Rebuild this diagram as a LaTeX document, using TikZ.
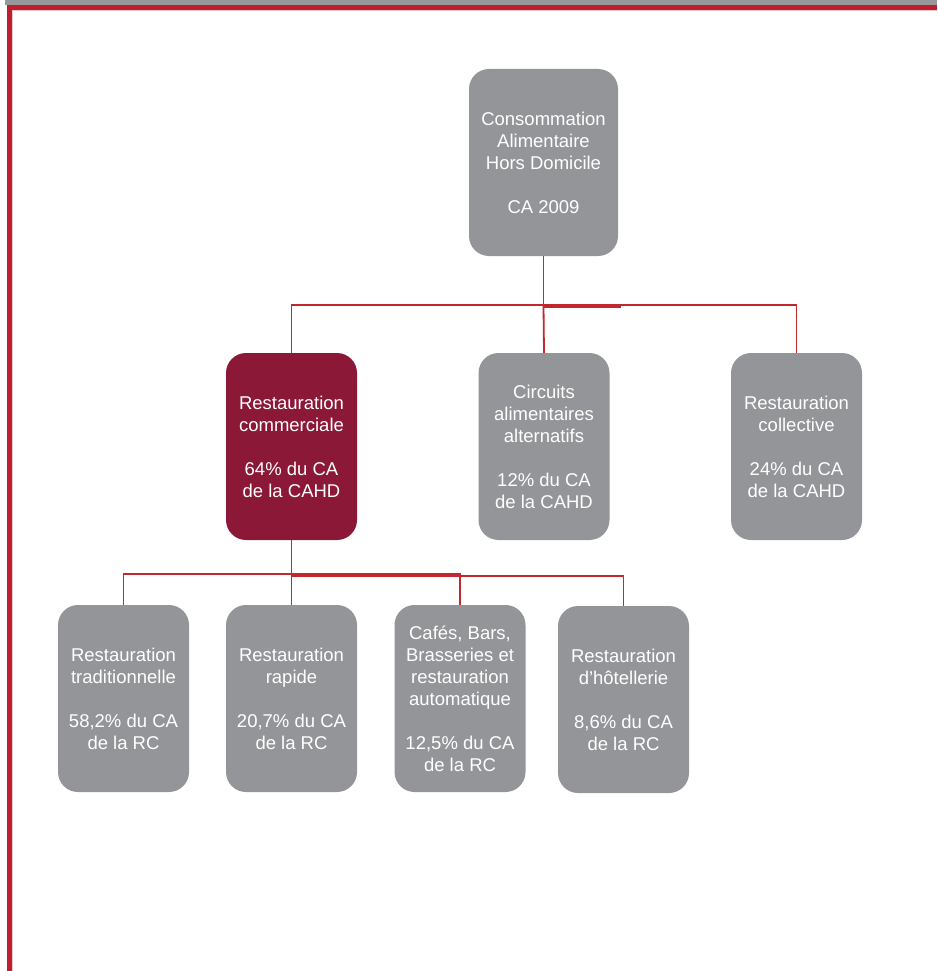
\documentclass[tikz,border=0pt]{standalone}
\usepackage{fontspec}
\setmainfont{Liberation Sans}
\definecolor{boxgray}{HTML}{939598}
\definecolor{headred}{HTML}{8C1838}
\definecolor{linkred}{HTML}{C1272D}
\definecolor{framered}{HTML}{BE1E2D}
\definecolor{framegray}{HTML}{97989B}
\begin{document}
\begin{tikzpicture}[x=1pt,y=-1pt,
  box/.style={rectangle, rounded corners=20pt, fill=boxgray, text=white,
    minimum width=131pt, minimum height=187pt, inner sep=0pt, align=center,
    font=\fontsize{18.5}{22}\selectfont},
  link/.style={draw=linkred, line width=1.8pt}]
\useasboundingbox (0,0) rectangle (937,971);

% page frame
\fill[framegray] (5,0) rectangle (937,5);
\fill[framered] (7,5) rectangle (937,10);
\fill[framered] (7,5) rectangle (12,971);
\draw[framered!25, line width=0.8pt] (12,10.6) -- (937,10.6);
\draw[framered!25, line width=0.8pt] (12.6,10.6) -- (12.6,971);

% top of the hierarchy
\node[box, minimum width=149pt] (cahd) at (543.5,162.5)
  {Consommation\\Alimentaire\\Hors Domicile\\[22pt]CA 2009};

% second level
\node[box, fill=headred] (comm) at (291.5,446.5)
  {Restauration\\commerciale\\[22pt]64\% du CA\\de la CAHD};
\node[box] (circ) at (544,446.5)
  {Circuits\\alimentaires\\alternatifs\\[22pt]12\% du CA\\de la CAHD};
\node[box] (coll) at (796.5,446.5)
  {Restauration\\collective\\[22pt]24\% du CA\\de la CAHD};

% third level
\node[box] (trad) at (123.5,698.5)
  {Restauration\\traditionnelle\\[22pt]58,2\% du CA\\de la RC};
\node[box] (rapi) at (291.5,698.5)
  {Restauration\\rapide\\[22pt]20,7\% du CA\\de la RC};
\node[box] (cafe) at (460,698.5)
  {Cafés, Bars,\\Brasseries et\\restauration\\automatique\\[22pt]12,5\% du CA\\de la RC};
\node[box] (hotl) at (623.5,699.5)
  {Restauration\\d’hôtellerie\\[22pt]8,6\% du CA\\de la RC};

% connectors, first split
\coordinate (h1) at (543.5,305);
\coordinate (h1b) at (543.5,307);
\coordinate (h1e) at (621,307);
\draw[link] (cahd.south) -- (h1);
\draw[link] (comm.north) |- (h1) -| (coll.north);
\draw[link] (h1) -- (circ.north);
\draw[link] (h1b) -- (h1e);

% connectors, second split
\coordinate (h2) at (291.5,574);
\coordinate (h2b) at (291.5,576);
\draw[link] (comm.south) -- (h2);
\draw[link] (trad.north) |- (h2) -| (cafe.north);
\draw[link] (h2) -- (rapi.north);
\draw[link] (h2b) -| (hotl.north);
\end{tikzpicture}
\end{document}
